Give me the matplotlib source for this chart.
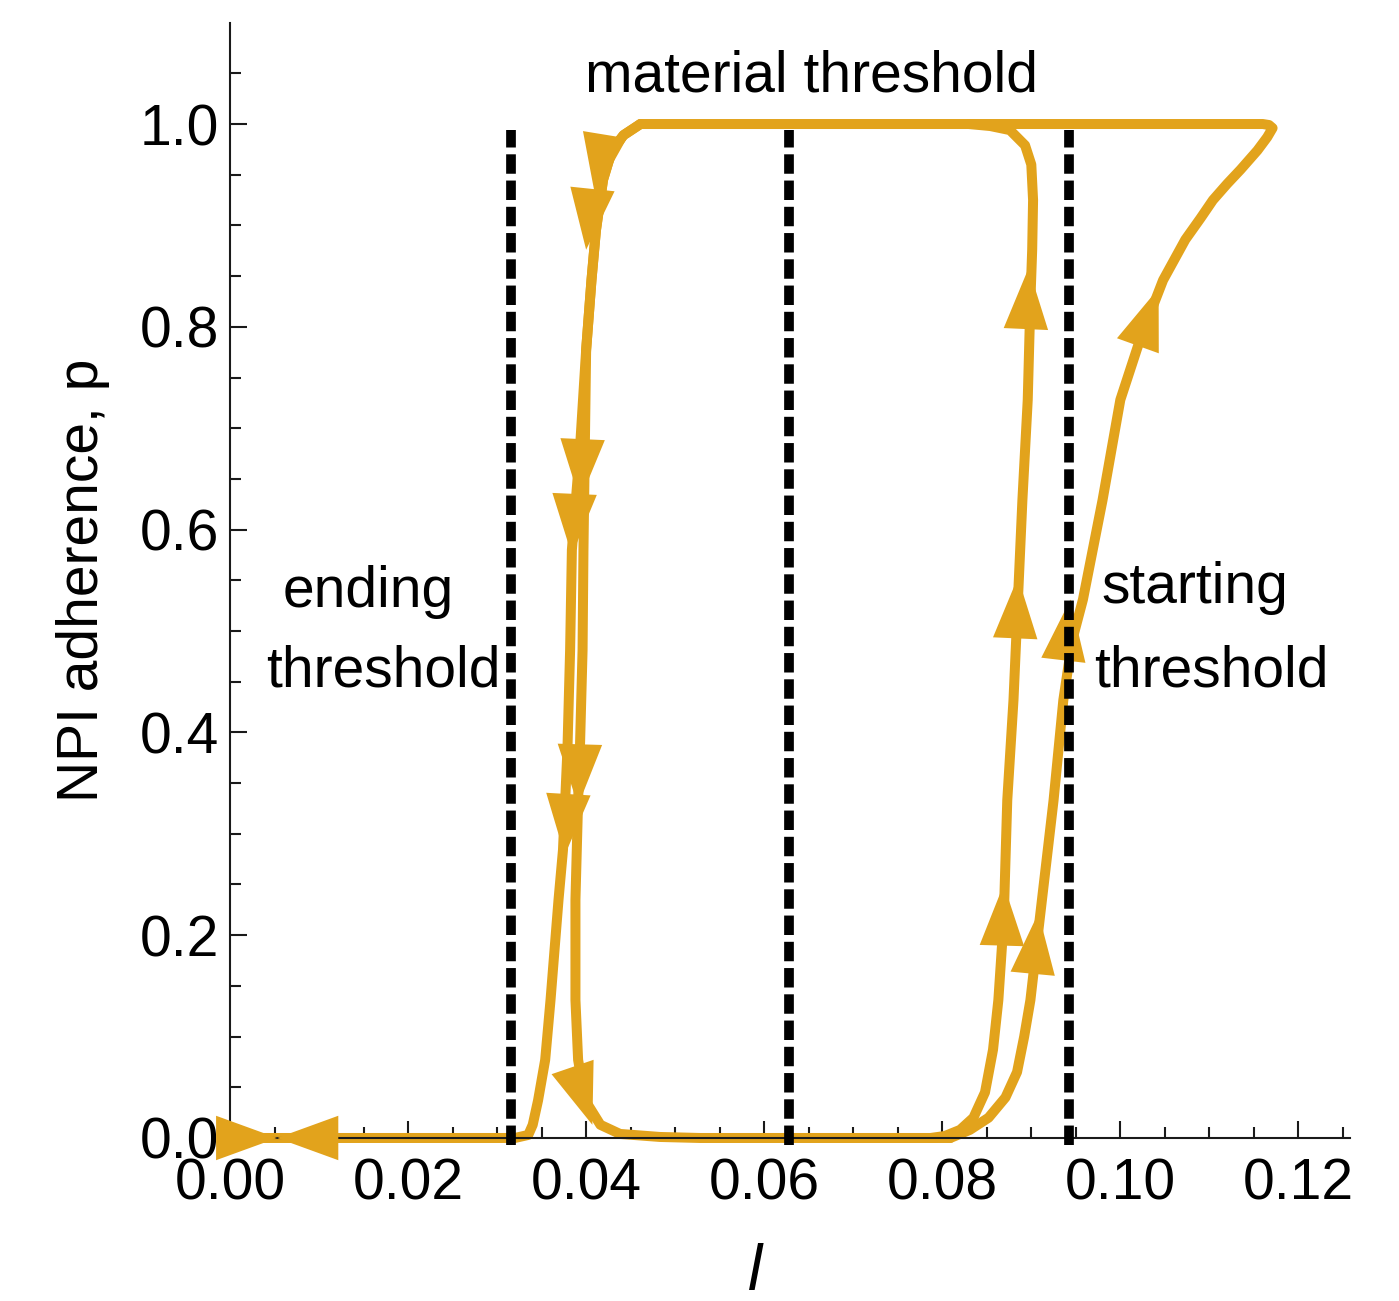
import numpy as np
import matplotlib
matplotlib.use("Agg")
import matplotlib.pyplot as plt
from matplotlib.ticker import MultipleLocator

plt.rcParams['font.family'] = ['Liberation Sans', 'DejaVu Sans']

# ---------------- data (l, p) ----------------
thresholds = [0.0316, 0.0628, 0.0942]   # ending, material, starting

# inner rising trajectory
rise1_l = [0.0787, 0.0803, 0.0820, 0.0835, 0.0848, 0.0857, 0.0863, 0.0869, 0.0873, 0.0880,
           0.0885, 0.0890, 0.0896, 0.0899, 0.0901, 0.0902, 0.0900, 0.0893, 0.0876, 0.0854,
           0.0830]
rise1_p = [0.000, 0.002, 0.008, 0.020, 0.045, 0.087, 0.136, 0.215, 0.333, 0.432,
           0.531, 0.629, 0.728, 0.826, 0.876, 0.925, 0.960, 0.979, 0.994, 0.998,
           1.000]

# outer rising trajectory (goes round to the top line)
rise2_l = [0.0809, 0.0831, 0.0852, 0.0871, 0.0884, 0.0892, 0.0899, 0.0908, 0.0925, 0.0936,
           0.0946, 0.0958, 0.0969, 0.0980, 0.1000, 0.1022, 0.1048, 0.1073, 0.1090, 0.1104,
           0.1120, 0.1135, 0.1154, 0.1165, 0.1171, 0.1167, 0.1160, 0.0461]
rise2_p = [0.000, 0.008, 0.020, 0.040, 0.065, 0.100, 0.136, 0.205, 0.333, 0.432,
           0.491, 0.531, 0.580, 0.629, 0.728, 0.787, 0.846, 0.886, 0.907, 0.925,
           0.941, 0.955, 0.974, 0.987, 0.996, 0.999, 1.000, 1.000]

# descending trajectory, left leg -> runs to l = 0
downA_l = [0.0461, 0.0442, 0.0429, 0.0419, 0.0411, 0.0406, 0.0400, 0.0393, 0.0384, 0.0382,
           0.0379, 0.0374, 0.0369, 0.0360, 0.0354, 0.0346, 0.0340, 0.0335, 0.0320, 0.0]
downA_p = [1.000, 0.989, 0.974, 0.945, 0.895, 0.846, 0.777, 0.679, 0.580, 0.481,
           0.383, 0.284, 0.235, 0.136, 0.077, 0.037, 0.013, 0.003, 0.000, 0.000]

# descending trajectory, right leg -> runs right along p = 0
downB_l = [0.0461, 0.0442, 0.0429, 0.0419, 0.0411, 0.0406, 0.0400, 0.0397, 0.0396, 0.0393,
           0.0391, 0.0388, 0.0388, 0.0391, 0.0399, 0.0416, 0.0438, 0.0483, 0.0528, 0.0809]
downB_p = [1.000, 0.989, 0.974, 0.945, 0.895, 0.846, 0.777, 0.580, 0.481, 0.383,
           0.333, 0.235, 0.136, 0.077, 0.037, 0.013, 0.004, 0.001, 0.000, 0.000]

# arrow heads: tail -> tip
arrow_tail_l = [0.0421, 0.0407, 0.0396, 0.0387, 0.0393, 0.0380, 0.0384,
                0.0867, 0.0882, 0.0894, 0.0902, 0.0936, 0.1020,
                0.0124, -0.0018]
arrow_tail_p = [0.989, 0.935, 0.688, 0.634, 0.388, 0.338, 0.072,
                0.190, 0.494, 0.799, 0.166, 0.471, 0.782,
                0.0, 0.0]
arrow_tip_l = [0.0410, 0.0400, 0.0393, 0.0384, 0.0391, 0.0376, 0.0407,
               0.0869, 0.0885, 0.0897, 0.0908, 0.0944, 0.1043,
               0.0053, 0.0053]
arrow_tip_p = [0.930, 0.876, 0.629, 0.575, 0.328, 0.279, 0.013,
               0.250, 0.553, 0.858, 0.222, 0.531, 0.838,
               0.0, 0.0]

orange = '#e2a31c'

fig = plt.figure(figsize=(13.99, 13.01), dpi=100)
ax = fig.add_axes([0.1644, 0.1253, 0.8006, 0.857])

for xs, ys in [(downA_l, downA_p), (downB_l, downB_p), (rise1_l, rise1_p), (rise2_l, rise2_p)]:
    ax.plot(xs, ys, color=orange, lw=7.2, solid_joinstyle='round', solid_capstyle='round',
            clip_on=False, zorder=2)

for tl, tp, hl, hp in zip(arrow_tail_l, arrow_tail_p, arrow_tip_l, arrow_tip_p):
    ax.annotate('', xy=(hl, hp), xytext=(tl, tp),
                arrowprops=dict(arrowstyle='-|>,head_length=2.2,head_width=0.8',
                                mutation_scale=20, color=orange, lw=0,
                                shrinkA=0, shrinkB=0),
                annotation_clip=False, zorder=3)

for xt in thresholds:
    ax.plot([xt, xt], [-0.007, 0.994], color='black', lw=7, dashes=(2.0, 0.7),
            clip_on=False, zorder=4)

fs = 41
ax.text(0.0653, 1.0316, 'material threshold', fontsize=fs, ha='center', va='baseline')
ax.text(0.0155, 0.524, 'ending', fontsize=fs, ha='center', va='baseline')
ax.text(0.0172, 0.445, 'threshold', fontsize=fs, ha='center', va='baseline')
ax.text(0.1084, 0.528, 'starting', fontsize=fs, ha='center', va='baseline')
ax.text(0.1102, 0.445, 'threshold', fontsize=fs, ha='center', va='baseline')

ax.set_xlim(0, 0.1258)
ax.set_ylim(0, 1.0996)
ax.xaxis.set_major_locator(MultipleLocator(0.02))
ax.xaxis.set_minor_locator(MultipleLocator(0.005))
ax.yaxis.set_major_locator(MultipleLocator(0.2))
ax.yaxis.set_minor_locator(MultipleLocator(0.05))
ax.xaxis.set_major_formatter(matplotlib.ticker.FormatStrFormatter('%.2f'))
ax.yaxis.set_major_formatter(matplotlib.ticker.FormatStrFormatter('%.1f'))

for s in ['top', 'right']:
    ax.spines[s].set_visible(False)
for s in ['left', 'bottom']:
    ax.spines[s].set_linewidth(1.5)
    ax.spines[s].set_color('#1a1a1a')

ax.tick_params(which='both', direction='in', width=1.5, color='#1a1a1a', labelsize=fs)
ax.tick_params(which='major', length=12)
ax.tick_params(which='minor', length=8)
ax.tick_params(axis='y', pad=8)
ax.tick_params(axis='x', pad=14)

ax.set_ylabel('NPI adherence, p', fontsize=fs)
ax.yaxis.set_label_coords(-0.107, 0.5)
ax.set_xlabel('l', fontsize=46, style='italic')
ax.xaxis.set_label_coords(0.469, -0.094)

fig.savefig('out.png', dpi=100)
